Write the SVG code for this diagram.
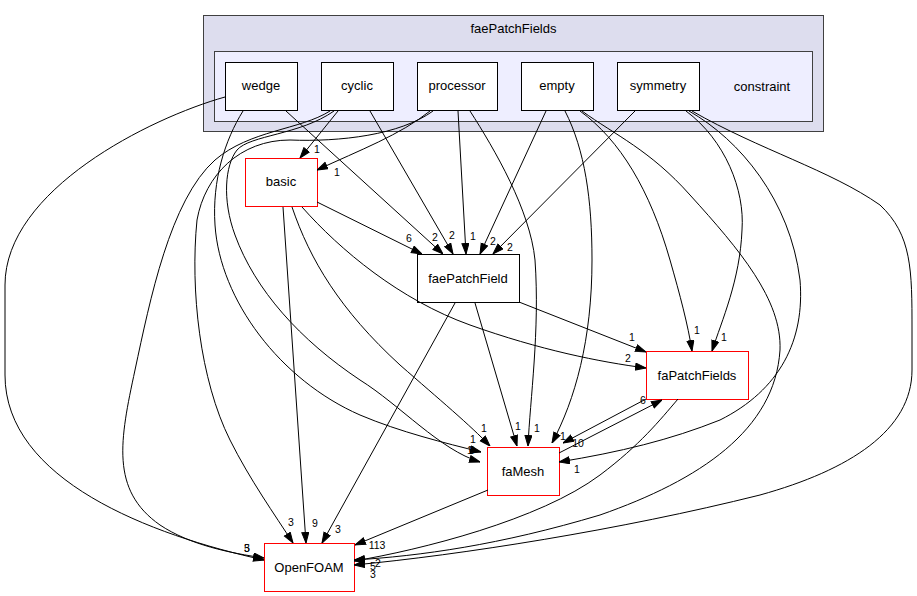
<svg xmlns="http://www.w3.org/2000/svg" width="917" height="596" viewBox="0 0 917 596">
<style>
text{font-family:"Liberation Sans",Arial,Helvetica,sans-serif;fill:#000}
.n{text-anchor:middle;font-size:13px}
.l{text-anchor:middle;font-size:10.5px}
.box{fill:#fff;stroke:#000;stroke-width:1}
.red{fill:#fff;stroke:#ff0000;stroke-width:1}
.e{fill:none;stroke:#000;stroke-width:1;marker-end:url(#ah)}
</style>
<defs>
<marker id="ah" markerWidth="11" markerHeight="9" refX="11" refY="4" orient="auto" markerUnits="userSpaceOnUse">
<path d="M0.5,0.5 L11,4 L0.5,7.5 z" fill="#000" stroke="#000" stroke-width="1"/>
</marker>
</defs>
<rect width="917" height="596" fill="#fff"/>
<g id="cluster_faePatchFields">
<rect x="203.5" y="15.5" width="620" height="116" fill="#ddddee" stroke="#404040"/>
<text class="n" x="513.5" y="33">faePatchFields</text>
</g>
<g id="cluster_constraint">
<rect x="214.5" y="51.5" width="598" height="70" fill="#eeeeff" stroke="#404040"/>
<text class="n" x="762" y="91">constraint</text>
</g>
<g id="wedge"><rect class="box" x="225.5" y="62.5" width="72" height="48"/><text class="n" x="261" y="90">wedge</text></g>
<g id="cyclic"><rect class="box" x="321.5" y="62.5" width="72" height="48"/><text class="n" x="357" y="90">cyclic</text></g>
<g id="processor"><rect class="box" x="417.5" y="62.5" width="80" height="48"/><text class="n" x="457" y="90">processor</text></g>
<g id="empty"><rect class="box" x="521.5" y="62.5" width="72" height="48"/><text class="n" x="557" y="90">empty</text></g>
<g id="symmetry"><rect class="box" x="617.5" y="62.5" width="82" height="48"/><text class="n" x="658" y="90">symmetry</text></g>
<g id="basic"><rect class="red" x="245.5" y="158.5" width="72" height="48"/><text class="n" x="281" y="186">basic</text></g>
<g id="faePatchField"><rect class="box" x="417.5" y="254.5" width="102" height="48"/><text class="n" x="468" y="283">faePatchField</text></g>
<g id="faPatchFields"><rect class="red" x="646.5" y="351.5" width="102" height="48"/><text class="n" x="697" y="380">faPatchFields</text></g>
<g id="faMesh"><rect class="red" x="487.5" y="447.5" width="72" height="48"/><text class="n" x="523" y="476">faMesh</text></g>
<g id="OpenFOAM"><rect class="red" x="264.5" y="543.5" width="90" height="48"/><text class="n" x="309" y="572">OpenFOAM</text></g>
<g id="edges">
<path class="e" d="M225,97 C150,118 5,190 5,285 L5,375 C5,480 150,535 264,560"/>
<path class="e" d="M243,111 C225,140 212,180 215,225 C220,300 280,380 360,415 C400,432 445,443 481,452"/>
<path class="e" d="M286,111 L443,254"/>
<path class="e" d="M338,111 L300,158"/>
<path class="e" d="M370,111 L453,254"/>
<path class="e" d="M330,111 C300,130 250,130 215,160 C170,200 150,300 135,370 C120,440 110,490 160,525 C190,545 230,553 264,558"/>
<path class="e" d="M334,111 C300,135 250,135 237,150 C225,165 222,200 235,235 C255,290 300,340 360,380 C400,405 440,450 480,462"/>
<path class="e" d="M430,111 C400,135 360,150 317,170"/>
<path class="e" d="M458,111 L466,254"/>
<path class="e" d="M470,111 C495,150 530,210 535,260 C540,330 530,400 528,446"/>
<path class="e" d="M433,111 C400,135 340,142 290,140 C240,140 205,175 197,220 C190,290 200,380 230,440 C250,480 275,515 293,543"/>
<path class="e" d="M546,111 L480,254"/>
<path class="e" d="M565,111 C585,150 592,200 592,260 C592,340 575,400 552,443"/>
<path class="e" d="M580,111 C620,140 650,190 670,260 C680,295 688,325 692,351"/>
<path class="e" d="M582,111 C615,135 650,150 690,195 C740,250 782,300 780,350 C775,430 700,480 600,515 C500,545 420,556 354,560"/>
<path class="e" d="M635,111 L493,254"/>
<path class="e" d="M686,111 C725,140 745,190 742,230 C740,280 722,320 712,351"/>
<path class="e" d="M689,111 C740,140 790,200 800,280 C805,340 780,390 720,420 C670,440 620,452 559,462"/>
<path class="e" d="M692,111 C760,150 830,170 880,205 C912,235 912,270 912,330 L912,370 C912,430 850,470 760,495 C620,530 460,555 354,565"/>
<path class="e" d="M317,202 L422,254"/>
<path class="e" d="M302,207 C340,250 400,300 470,325 C540,350 600,362 646,368"/>
<path class="e" d="M292,207 C310,260 340,310 400,365 C440,400 470,425 490,446"/>
<path class="e" d="M283,207 L306,543"/>
<path class="e" d="M519,302 L646,352"/>
<path class="e" d="M475,303 L517,446"/>
<path class="e" d="M455,303 L322,543"/>
<path class="e" d="M646,399 L563,443"/>
<path class="e" d="M559,453 L662,400"/>
<path class="e" d="M678,399 C660,420 640,445 600,475 C540,520 420,550 354,561"/>
<path class="e" d="M488,490 L355,545"/>
</g>
<g id="labels">
<text class="l" x="409" y="242">6</text>
<text class="l" x="435" y="241">2</text>
<text class="l" x="452" y="239">2</text>
<text class="l" x="473" y="240">1</text>
<text class="l" x="493" y="245">2</text>
<text class="l" x="510" y="251">2</text>
<text class="l" x="317" y="153">1</text>
<text class="l" x="337" y="176">1</text>
<text class="l" x="484" y="432">1</text>
<text class="l" x="473" y="443">1</text>
<text class="l" x="470" y="454">1</text>
<text class="l" x="472" y="454">0</text>
<text class="l" x="518" y="430">1</text>
<text class="l" x="537" y="432">1</text>
<text class="l" x="563" y="440">1</text>
<text class="l" x="578" y="447">10</text>
<text class="l" x="577" y="473">1</text>
<text class="l" x="632" y="341">1</text>
<text class="l" x="628" y="362">2</text>
<text class="l" x="697" y="334">1</text>
<text class="l" x="724" y="341">1</text>
<text class="l" x="643" y="404">6</text>
<text class="l" x="291" y="526">3</text>
<text class="l" x="315" y="527">9</text>
<text class="l" x="338" y="533">3</text>
<text class="l" x="377" y="549">113</text>
<text class="l" x="247" y="552">5</text>
<text class="l" x="247" y="552">3</text>
<text class="l" x="378" y="567">2</text>
<text class="l" x="373" y="570">5</text>
<text class="l" x="373" y="578">3</text>
</g>
</svg>
